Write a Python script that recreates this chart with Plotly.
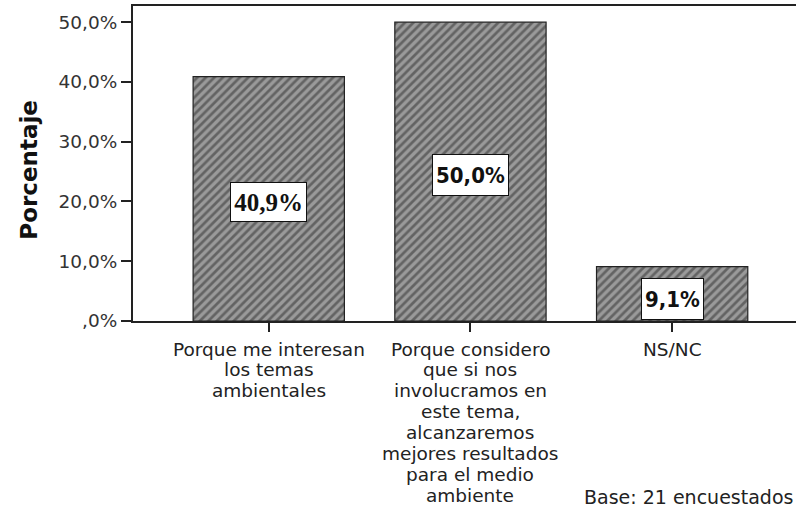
import plotly.graph_objects as go

categories = [
    "Porque me interesan los temas ambientales",
    "Porque considero que si nos involucramos en este tema, alcanzaremos mejores resultados para el medio ambiente",
    "NS/NC",
]
category_lines = [
    ["Porque me interesan", "los temas", "ambientales"],
    ["Porque considero", "que si nos", "involucramos en", "este tema,",
     "alcanzaremos", "mejores resultados", "para el medio", "ambiente"],
    ["NS/NC"],
]
values = [40.9, 50.0, 9.1]
value_labels = ["40,9%", "50,0%", "9,1%"]
ytick_vals = [0, 10, 20, 30, 40, 50]
ytick_text = [",0%", "10,0%", "20,0%", "30,0%", "40,0%", "50,0%"]
label_fonts = [("Liberation Serif", 25), ("DejaVu Sans Condensed", 22), ("DejaVu Sans Condensed", 22)]
label_boxes = [(71, 34, -3), (71, 36, -3), (57, 36, -5)]  # width, height, yshift

fig = go.Figure()
fig.add_trace(go.Bar(
    x=categories, y=values, width=0.75,
    marker=dict(
        color="#9a9a9a",
        line=dict(color="#222", width=1.2),
        pattern=dict(shape="/", fgcolor="#2c2c2c", bgcolor="#9a9a9a",
                     size=6, solidity=0.45),
    ),
    hoverinfo="skip",
))

# value boxes in the middle of each bar
for c, v, t, (fam, sz), (bw, bh, ys) in zip(categories, values, value_labels,
                                            label_fonts, label_boxes):
    fig.add_annotation(
        x=c, y=v / 2, xref="x", yref="y", text="<b>" + t + "</b>",
        showarrow=False, bgcolor="white", bordercolor="#111", borderwidth=1,
        borderpad=2, width=bw, height=bh, yshift=ys,
        font=dict(family=fam, size=sz, color="#111"),
    )

# category labels, one line at a time (tight line spacing)
LINE = 20.9
for c, lines in zip(categories, category_lines):
    for i, ln in enumerate(lines):
        fig.add_annotation(
            x=c, y=0, xref="x", yref="paper", text=ln, showarrow=False,
            yanchor="middle", yshift=-(28 + i * LINE),
            font=dict(family="DejaVu Sans", size=18.5, color="#222"),
        )

# y-axis title
fig.add_annotation(
    x=-0.157, y=0.48, xref="paper", yref="paper", text="<b>Porcentaje</b>",
    textangle=-90, showarrow=False, xanchor="center", yanchor="middle",
    font=dict(family="DejaVu Sans", size=23, color="#111"),
)

fig.add_annotation(
    x=0.999, y=-0.56, xref="paper", yref="paper", xanchor="right", yanchor="middle",
    text="Base: 21 encuestados", showarrow=False,
    font=dict(family="DejaVu Sans", size=19, color="#222"),
)

fig.update_layout(
    width=796, height=517,
    margin=dict(l=133, r=0, t=6, b=196, autoexpand=False),
    paper_bgcolor="white", plot_bgcolor="white",
    showlegend=False,
    font=dict(family="DejaVu Sans", color="#222"),
    xaxis=dict(
        type="category", range=[-0.673, 2.614],
        showline=True, linecolor="#222", linewidth=2, mirror=True,
        ticks="outside", ticklen=9, tickwidth=1.5, tickcolor="#222",
        showticklabels=False, showgrid=False,
    ),
    yaxis=dict(
        range=[0, 52.7], tickvals=ytick_vals, ticktext=ytick_text,
        showline=True, linecolor="#222", linewidth=2,
        ticks="outside", ticklen=10, tickwidth=1.5, tickcolor="#222",
        tickfont=dict(family="DejaVu Sans", size=18.5, color="#333"),
        showgrid=False, zeroline=False,
    ),
)

fig.write_html(
    "out.html",
    config={"displayModeBar": False},
    post_script="document.body.style.margin='0';document.body.style.padding='0';",
)
